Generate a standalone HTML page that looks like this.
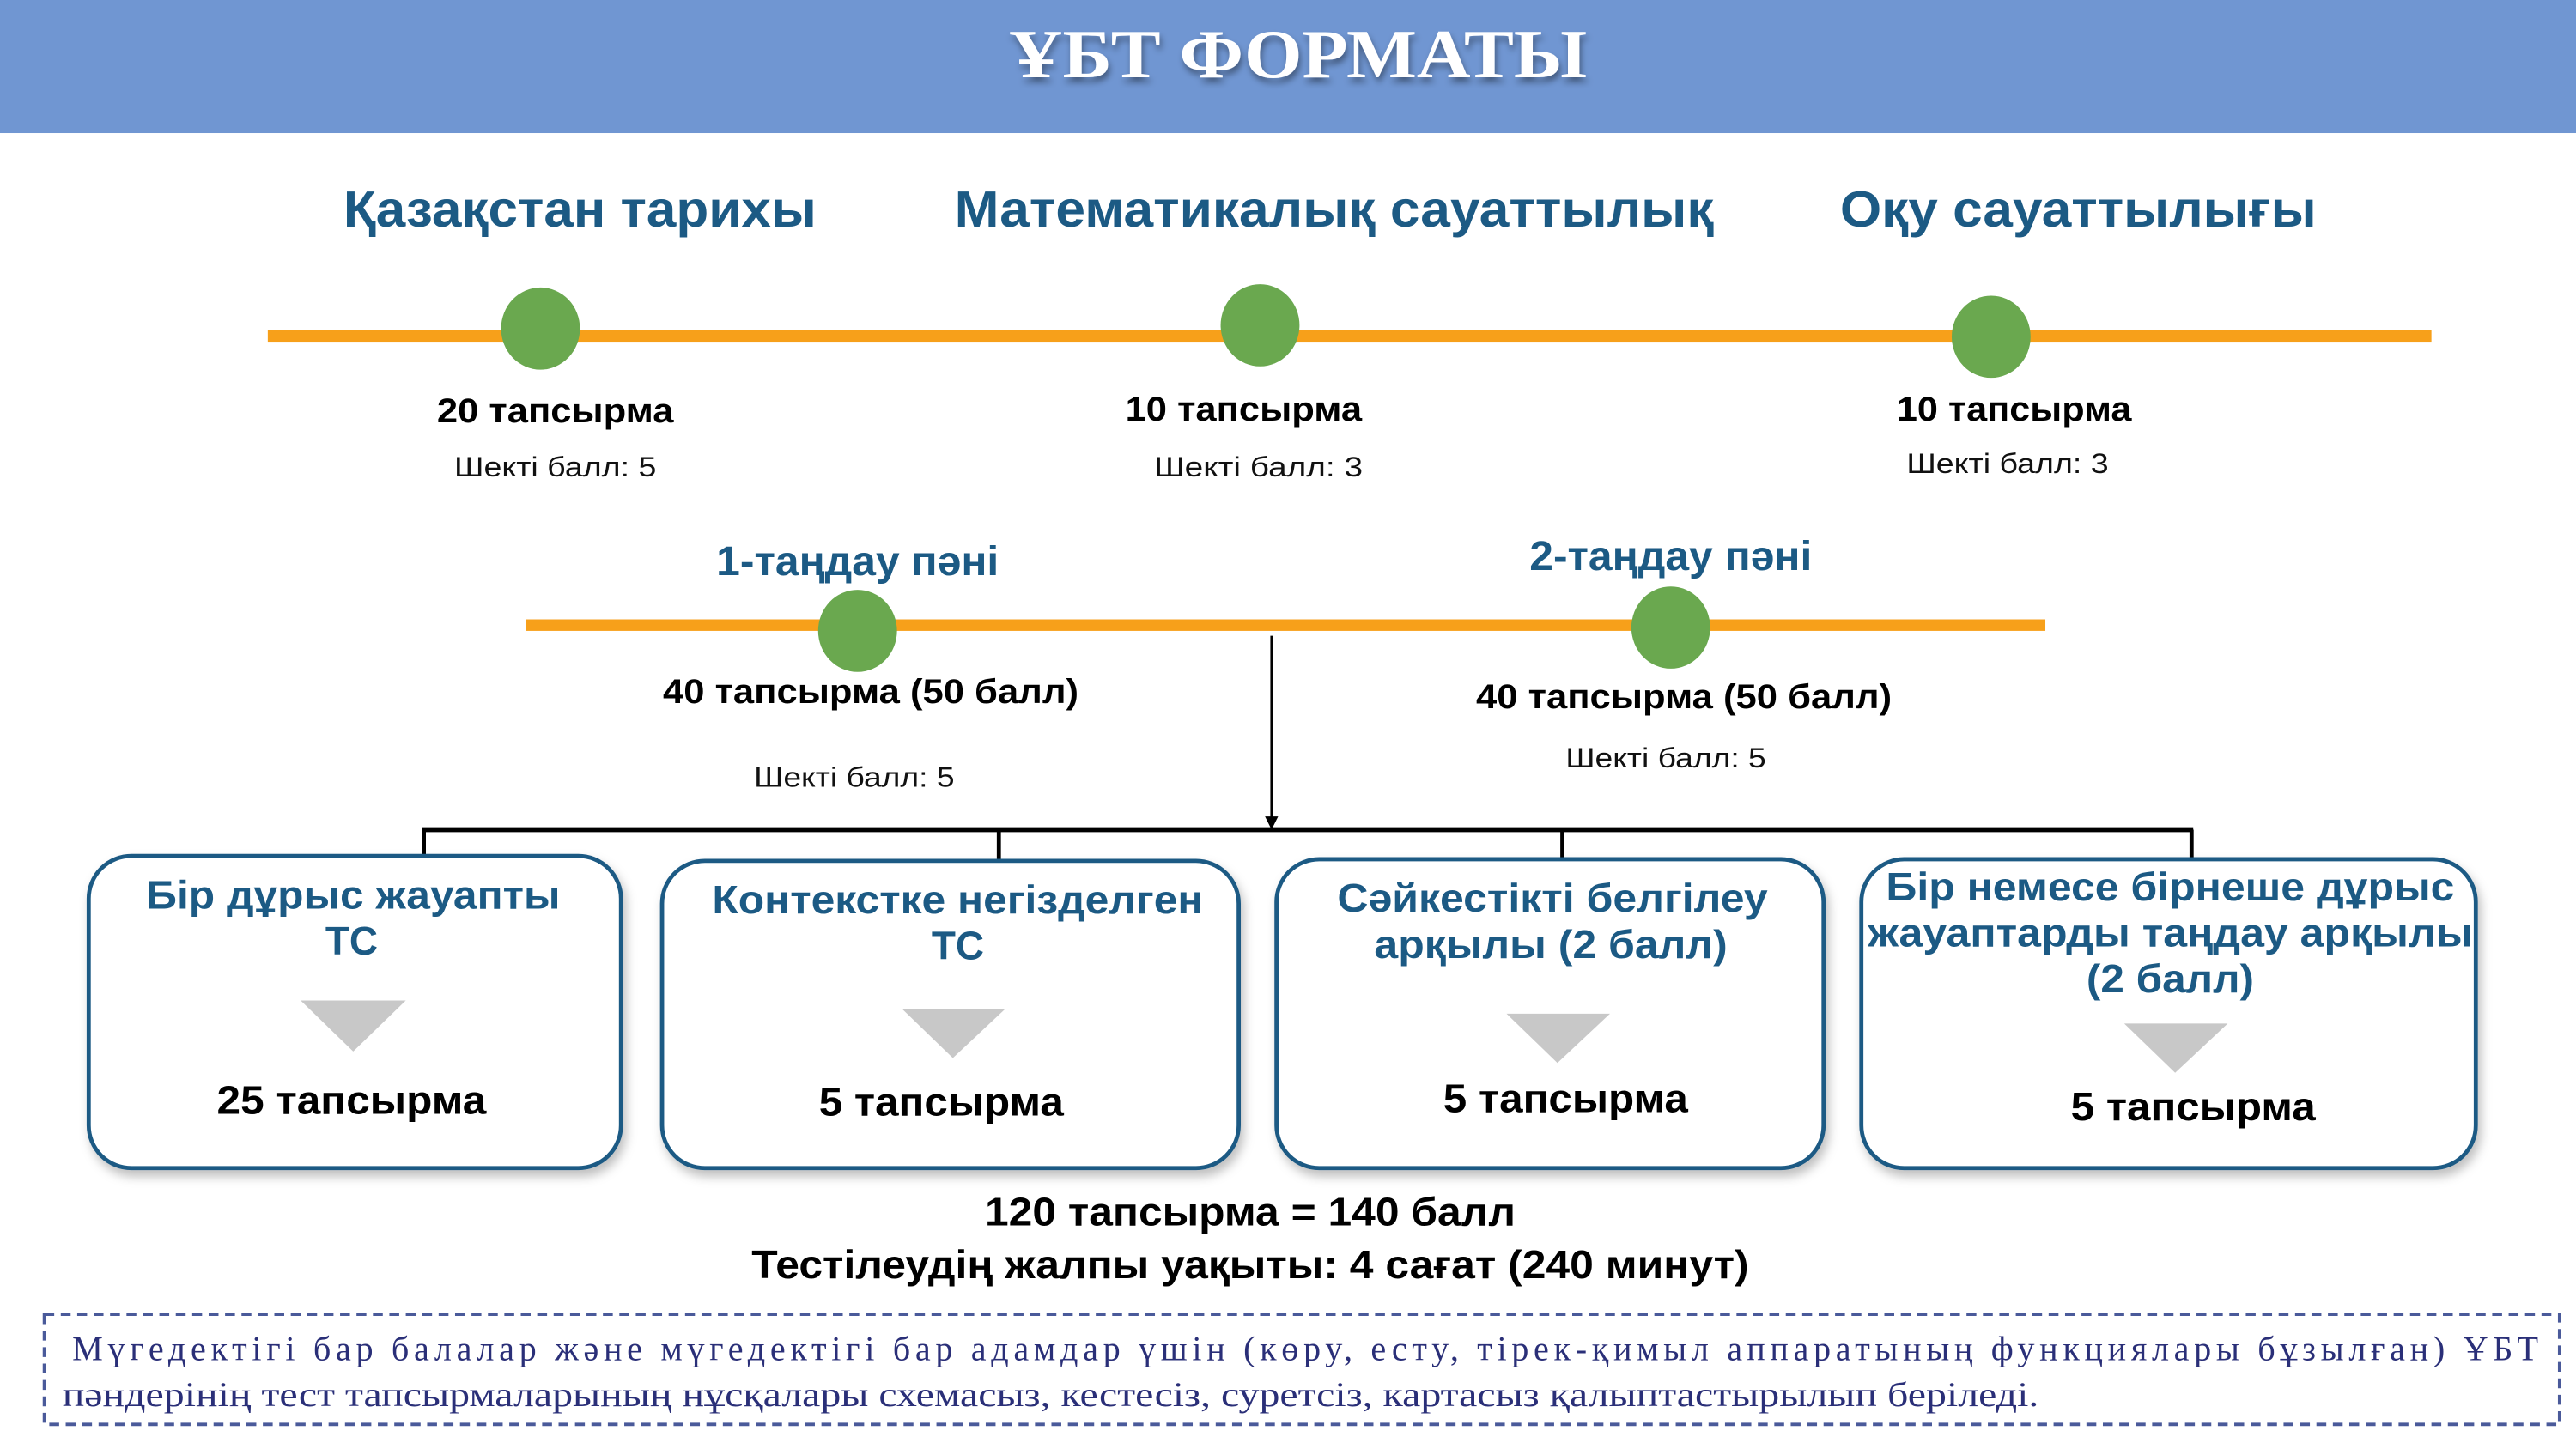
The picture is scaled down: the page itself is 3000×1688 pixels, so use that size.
<!DOCTYPE html>
<html><head><meta charset="utf-8"><style>
html,body{margin:0;padding:0;background:#fff;}
svg{display:block;}
text{font-family:"Liberation Sans","DejaVu Sans",sans-serif;}
.h{font-weight:bold;fill:#1c5a84;}
.b{font-weight:bold;fill:#000;}
.s{fill:#111;}
.f{font-family:"Liberation Serif","DejaVu Serif",serif;fill:#2a2f78;}
</style></head><body>
<svg width="3000" height="1688" viewBox="0 0 1568 882" preserveAspectRatio="none" xmlns="http://www.w3.org/2000/svg">
<defs>
<filter id="sh" x="-10%" y="-10%" width="120%" height="130%"><feDropShadow dx="2" dy="4" stdDeviation="3" flood-color="#000" flood-opacity="0.25"/></filter>
<filter id="ts" x="-10%" y="-20%" width="120%" height="150%"><feDropShadow dx="1" dy="3" stdDeviation="2" flood-color="#000" flood-opacity="0.4"/></filter>
</defs>
<rect x="0" y="0" width="1568" height="81" fill="#7096d2"/>
<text x="790" y="47" text-anchor="middle" font-size="42" font-weight="bold" fill="#fff" filter="url(#ts)" style="font-family:'Liberation Serif',serif" textLength="352" lengthAdjust="spacingAndGlyphs">ҰБТ ФОРМАТЫ</text>

<text class="h" x="353" y="138" text-anchor="middle" font-size="31" textLength="288" lengthAdjust="spacingAndGlyphs">Қазақстан тарихы</text>
<text class="h" x="812" y="138" text-anchor="middle" font-size="31" textLength="462" lengthAdjust="spacingAndGlyphs">Математикалық сауаттылық</text>
<text class="h" x="1265" y="138" text-anchor="middle" font-size="31" textLength="290" lengthAdjust="spacingAndGlyphs">Оқу сауаттылығы</text>

<rect x="163" y="201" width="1317" height="7" fill="#f7a01a"/>
<ellipse cx="329" cy="200" rx="24" ry="25" fill="#6aa84f"/>
<ellipse cx="767" cy="198" rx="24" ry="25" fill="#6aa84f"/>
<ellipse cx="1212" cy="205" rx="24" ry="25" fill="#6aa84f"/>

<text class="b" x="338" y="257" text-anchor="middle" font-size="21" textLength="144" lengthAdjust="spacingAndGlyphs">20 тапсырма</text>
<text class="s" x="338" y="290" text-anchor="middle" font-size="17" textLength="123" lengthAdjust="spacingAndGlyphs">Шекті балл: 5</text>
<text class="b" x="757" y="256" text-anchor="middle" font-size="21" textLength="144" lengthAdjust="spacingAndGlyphs">10 тапсырма</text>
<text class="s" x="766" y="290" text-anchor="middle" font-size="17" textLength="127" lengthAdjust="spacingAndGlyphs">Шекті балл:  3</text>
<text class="b" x="1226" y="256" text-anchor="middle" font-size="21" textLength="143" lengthAdjust="spacingAndGlyphs">10 тапсырма</text>
<text class="s" x="1222" y="288" text-anchor="middle" font-size="17" textLength="123" lengthAdjust="spacingAndGlyphs">Шекті балл: 3</text>

<text class="h" x="522" y="350" text-anchor="middle" font-size="25" textLength="172" lengthAdjust="spacingAndGlyphs">1-таңдау пәні</text>
<text class="h" x="1017" y="347" text-anchor="middle" font-size="25" textLength="172" lengthAdjust="spacingAndGlyphs">2-таңдау пәні</text>

<rect x="320" y="377" width="925" height="7" fill="#f7a01a"/>
<ellipse cx="522" cy="384" rx="24" ry="25" fill="#6aa84f"/>
<ellipse cx="1017" cy="382" rx="24" ry="25" fill="#6aa84f"/>

<text class="b" x="530" y="428" text-anchor="middle" font-size="21" textLength="253" lengthAdjust="spacingAndGlyphs">40 тапсырма (50 балл)</text>
<text class="b" x="1025" y="431" text-anchor="middle" font-size="21" textLength="253" lengthAdjust="spacingAndGlyphs">40 тапсырма (50 балл)</text>
<text class="s" x="520" y="479" text-anchor="middle" font-size="17" textLength="122" lengthAdjust="spacingAndGlyphs">Шекті балл: 5</text>
<text class="s" x="1014" y="467" text-anchor="middle" font-size="17" textLength="122" lengthAdjust="spacingAndGlyphs">Шекті балл: 5</text>

<line x1="774" y1="387" x2="774" y2="499" stroke="#000" stroke-width="1.5"/>
<polygon points="770,497 778,497 774,505" fill="#000"/>
<line x1="257" y1="505" x2="1335" y2="505" stroke="#000" stroke-width="3"/>
<g stroke="#000" stroke-width="2.5">
<line x1="258" y1="505" x2="258" y2="522"/>
<line x1="608" y1="505" x2="608" y2="525"/>
<line x1="951" y1="505" x2="951" y2="524"/>
<line x1="1334" y1="505" x2="1334" y2="524"/>
</g>

<g fill="#fff" stroke="#1c5a84" stroke-width="2.5" filter="url(#sh)">
<rect x="54" y="521" width="324" height="190" rx="26"/>
<rect x="403" y="524" width="351" height="187" rx="26"/>
<rect x="777" y="523" width="333" height="188" rx="26"/>
<rect x="1133" y="523" width="374" height="188" rx="26"/>
</g>

<g class="h" font-size="24" text-anchor="middle">
<text class="h" x="215" y="553" textLength="252" lengthAdjust="spacingAndGlyphs">Бір дұрыс жауапты</text>
<text class="h" x="214" y="581">ТС</text>
<text class="h" x="583" y="556" textLength="299" lengthAdjust="spacingAndGlyphs">Контекстке негізделген</text>
<text class="h" x="583" y="584">ТС</text>
<text class="h" x="945" y="555" textLength="262" lengthAdjust="spacingAndGlyphs">Сәйкестікті белгілеу</text>
<text class="h" x="944" y="583" textLength="215" lengthAdjust="spacingAndGlyphs">арқылы (2 балл)</text>
<text class="h" x="1321" y="548" textLength="346" lengthAdjust="spacingAndGlyphs">Бір немесе бірнеше дұрыс</text>
<text class="h" x="1321" y="576" textLength="368" lengthAdjust="spacingAndGlyphs">жауаптарды таңдау арқылы</text>
<text class="h" x="1321" y="604" textLength="102" lengthAdjust="spacingAndGlyphs">(2 балл)</text>
</g>

<g fill="#c8c8c8">
<polygon points="183,609 247,609 215,640"/>
<polygon points="549,614 612,614 580,644"/>
<polygon points="917,617 980,617 948,647"/>
<polygon points="1293,623 1356,623 1324,653"/>
</g>

<text class="b" x="214" y="678" text-anchor="middle" font-size="24" textLength="164" lengthAdjust="spacingAndGlyphs">25 тапсырма</text>
<text class="b" x="573" y="679" text-anchor="middle" font-size="24" textLength="149" lengthAdjust="spacingAndGlyphs">5 тапсырма</text>
<text class="b" x="953" y="677" text-anchor="middle" font-size="24" textLength="149" lengthAdjust="spacingAndGlyphs">5 тапсырма</text>
<text class="b" x="1335" y="682" text-anchor="middle" font-size="24" textLength="149" lengthAdjust="spacingAndGlyphs">5 тапсырма</text>

<text class="b" x="761" y="746" text-anchor="middle" font-size="24" textLength="323" lengthAdjust="spacingAndGlyphs">120 тапсырма = 140 балл</text>
<text class="b" x="761" y="778" text-anchor="middle" font-size="24" textLength="607" lengthAdjust="spacingAndGlyphs">Тестілеудің жалпы уақыты: 4 сағат (240 минут)</text>

<rect x="27" y="800" width="1531" height="67" fill="none" stroke="#4a5a9a" stroke-width="2" stroke-dasharray="6,4"/>
<text class="f" x="44" y="828" font-size="21" textLength="1501" lengthAdjust="spacing">Мүгедектігі бар балалар және мүгедектігі бар адамдар үшін (көру, есту, тірек-қимыл аппаратының функциялары бұзылған) ҰБТ</text>
<text class="f" x="38" y="856" font-size="21" textLength="1203" lengthAdjust="spacingAndGlyphs">пәндерінің тест тапсырмаларының нұсқалары схемасыз, кестесіз, суретсіз, картасыз қалыптастырылып беріледі.</text>
</svg>
</body></html>
